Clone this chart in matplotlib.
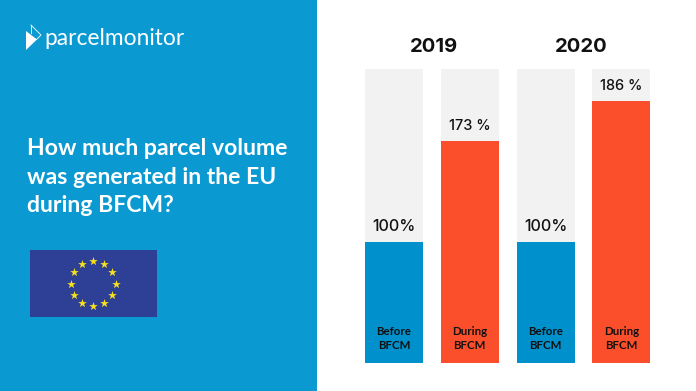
import numpy as np
import matplotlib
matplotlib.use("Agg")
import matplotlib.pyplot as plt
from matplotlib.patches import Rectangle, Polygon

W, H = 696, 391
# Values
years = ["2019", "2020"]
stages = ["Before\nBFCM", "During\nBFCM", "Before\nBFCM", "During\nBFCM"]
value_labels = ["100%", "173 %", "100%", "186 %"]
# Bar fill as drawn in the picture, share of the grey track (the graphic is not to scale with its labels)
fill_share = [41.2, 75.5, 41.2, 89.1]
track = [100, 100, 100, 100]
title_lines = ["How much parcel volume", "was generated in the EU", "during BFCM?"]
brand = "parcelmonitor"

C_PANEL = "#0b99d2"
C_BLUE = "#0090cb"
C_ORANGE = "#fb4f2c"
C_TRACK = "#f2f2f2"
C_FLAG = "#2e3f96"
C_STAR = "#f9e11c"
FONT = "Lato"
NUMFONT = "Inter"

fig = plt.figure(figsize=(W / 100, H / 100), dpi=100, facecolor="white")

# overlay in pixel coordinates for the panel, logo and flag
bg = fig.add_axes([0, 0, 1, 1])
bg.set_xlim(0, W)
bg.set_ylim(H, 0)
bg.axis("off")
bg.add_patch(Rectangle((0, 0), 317, H, color=C_PANEL, lw=0))
bg.add_patch(Polygon([(26, 31), (26, 50), (37, 39.5)], closed=True, fc="white", ec="none"))
bg.plot([31, 41, 36.5], [25, 35, 39.5], color="white", lw=0.6)
bg.plot([31, 31], [25, 33], color="white", lw=0.6)
bg.text(44, 45, brand, color="white", fontsize=16.4, family=FONT,
        va="baseline", ha="left")
for i, line in enumerate(title_lines):
    bg.text(27, 155 + i * 28.5, line, color="white", fontsize=16.6, family=FONT,
            fontweight="bold", va="baseline", ha="left")
bg.add_patch(Rectangle((30, 250), 127, 67, color=C_FLAG, lw=0))
ang = np.deg2rad(np.arange(0, 360, 30))
bg.scatter(93 + 22.5 * np.cos(ang), 283.5 + 22.5 * np.sin(ang), marker="*", s=42,
           color=C_STAR, lw=0, zorder=3)

# bars
ax = fig.add_axes([356.1 / W, 1 - 363 / H, (659.2 - 356.1) / W, 294 / H])
ax.set_xlim(-0.5, 3.5)
ax.set_ylim(0, 100)
ax.axis("off")
x = np.arange(4)
colors = [C_BLUE, C_ORANGE, C_BLUE, C_ORANGE]
ax.bar(x, track, width=0.765, color=C_TRACK, lw=0)
ax.bar(x, fill_share, width=0.765, color=colors, lw=0)
for xi, s, lab, st in zip(x, fill_share, value_labels, stages):
    ax.annotate(lab, (xi, s), xytext=(0, 5.5), textcoords="offset points", ha="center",
                va="bottom", fontsize=11.6 if lab == "100%" else 10.5, family=NUMFONT,
                fontweight="medium", color="#111111", annotation_clip=False)
    ax.annotate(st, (xi, 0), xytext=(0, 8.5), textcoords="offset points", ha="center",
                va="bottom", fontsize=8.3, family=FONT, fontweight="bold", color="#111111",
                linespacing=1.3)
for y, cx in zip(years, [0.53, 2.47]):
    ax.annotate(y, (cx, 100), xytext=(0, 9.5), textcoords="offset points", ha="center",
                va="bottom", fontsize=14.6, family=NUMFONT, fontweight="bold", color="#111111",
                annotation_clip=False)

fig.savefig("out.png", dpi=100, facecolor="white")
